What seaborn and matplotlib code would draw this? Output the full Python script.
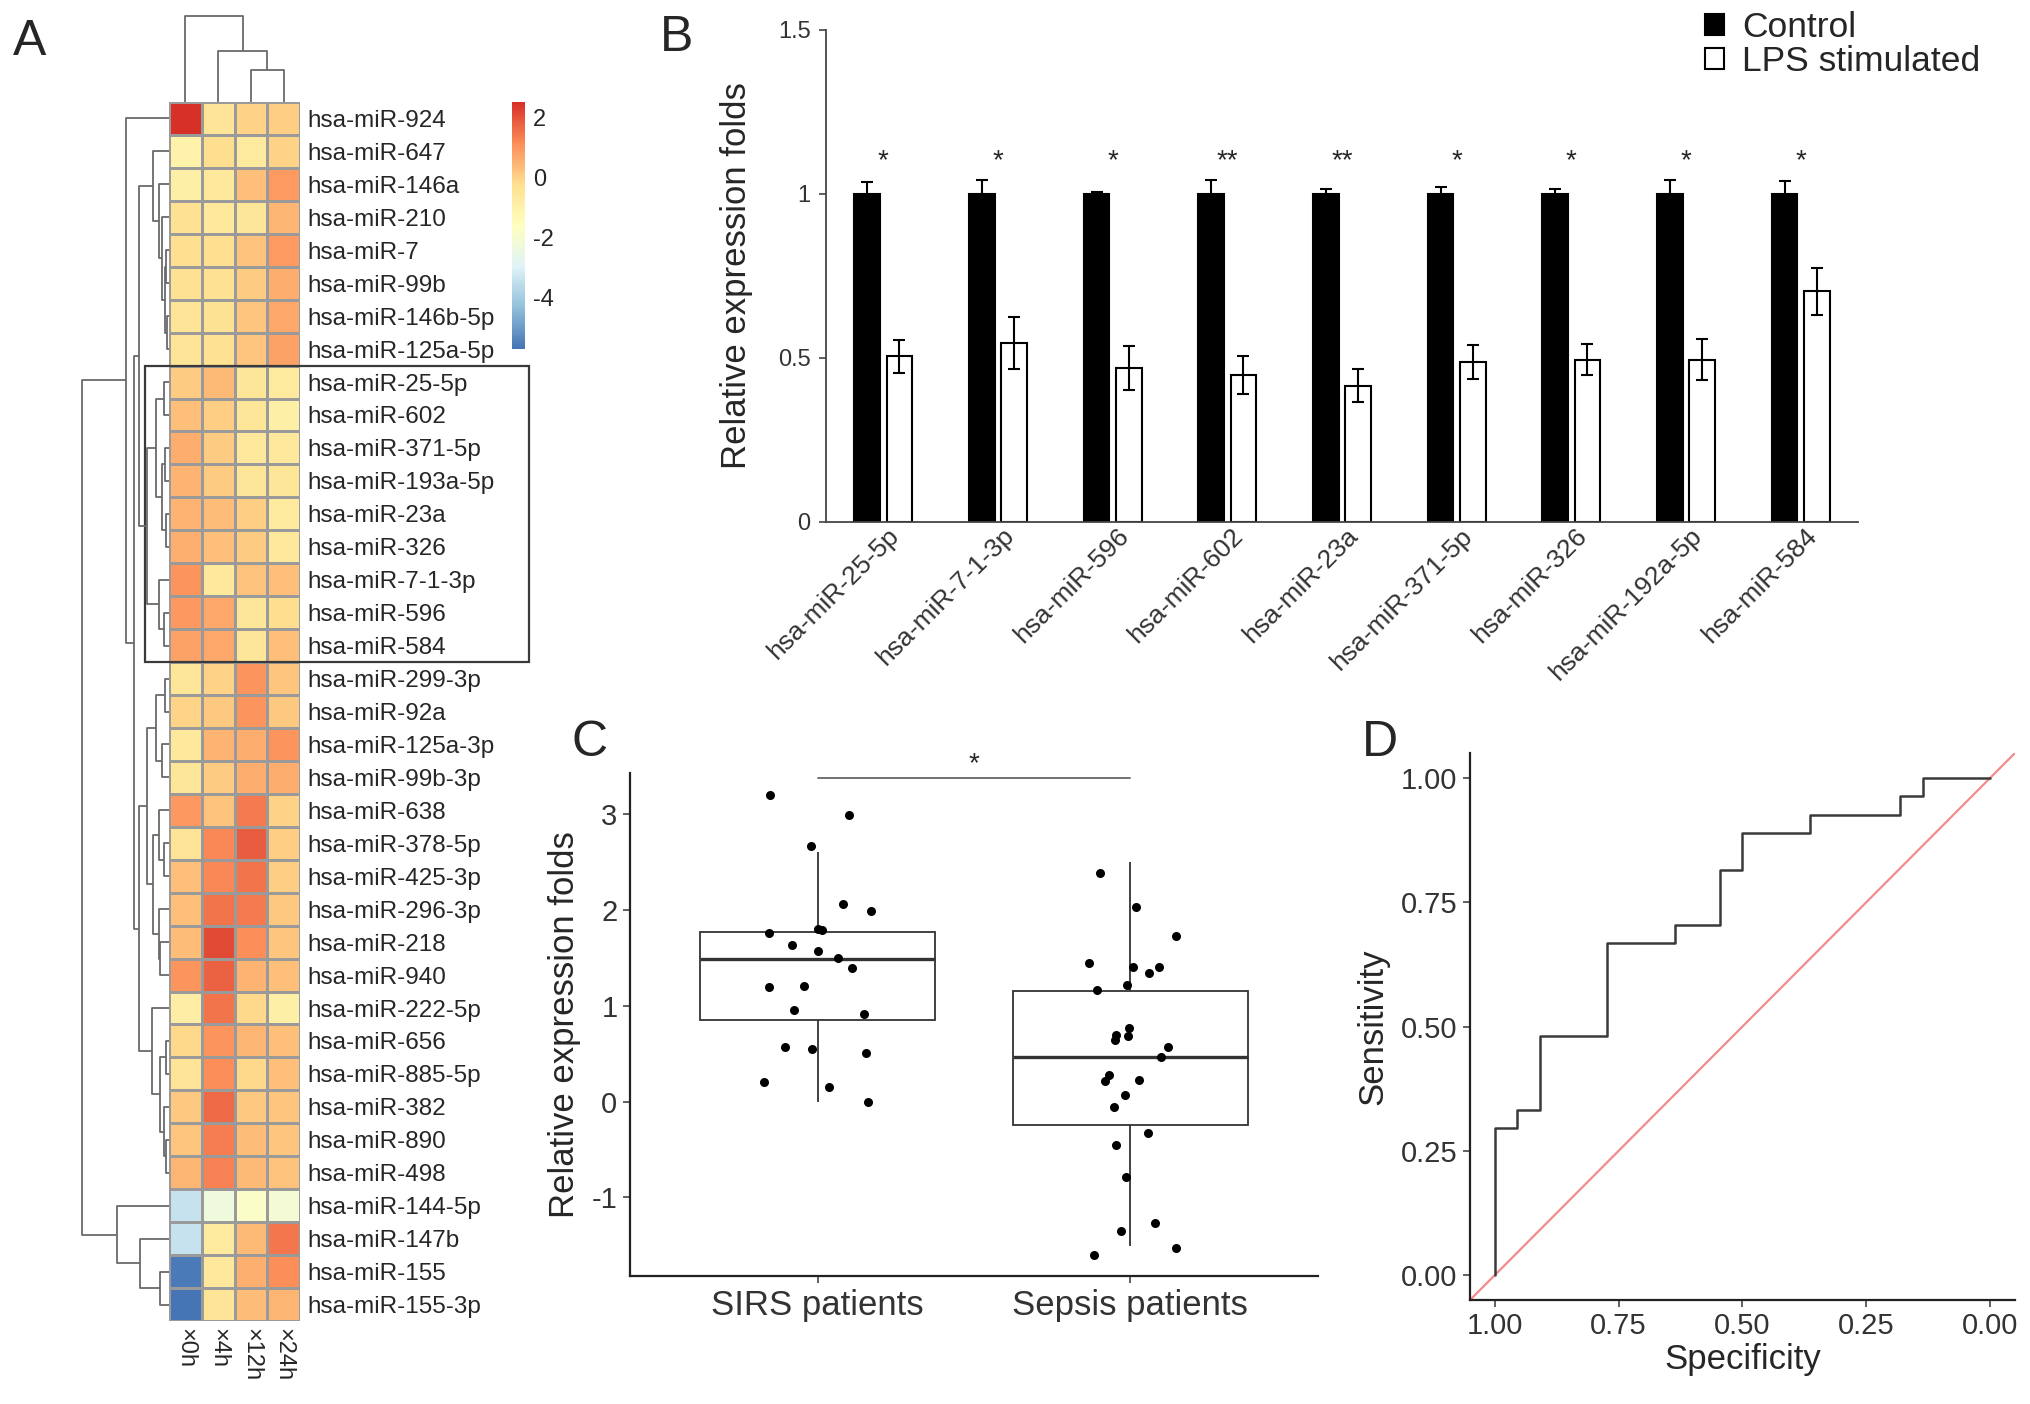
import numpy as np
import pandas as pd
import matplotlib
matplotlib.use('Agg')
import matplotlib.pyplot as plt
import matplotlib.transforms as mtransforms
import seaborn as sns
from matplotlib.colors import LinearSegmentedColormap
from matplotlib.patches import Rectangle
from matplotlib.ticker import FormatStrFormatter

# ---------------- Panel A: heatmap of miRNA expression ----------------
mirnas = ['hsa-miR-924', 'hsa-miR-647', 'hsa-miR-146a', 'hsa-miR-210', 'hsa-miR-7',
          'hsa-miR-99b', 'hsa-miR-146b-5p', 'hsa-miR-125a-5p', 'hsa-miR-25-5p',
          'hsa-miR-602', 'hsa-miR-371-5p', 'hsa-miR-193a-5p', 'hsa-miR-23a',
          'hsa-miR-326', 'hsa-miR-7-1-3p', 'hsa-miR-596', 'hsa-miR-584',
          'hsa-miR-299-3p', 'hsa-miR-92a', 'hsa-miR-125a-3p', 'hsa-miR-99b-3p',
          'hsa-miR-638', 'hsa-miR-378-5p', 'hsa-miR-425-3p', 'hsa-miR-296-3p',
          'hsa-miR-218', 'hsa-miR-940', 'hsa-miR-222-5p', 'hsa-miR-656',
          'hsa-miR-885-5p', 'hsa-miR-382', 'hsa-miR-890', 'hsa-miR-498',
          'hsa-miR-144-5p', 'hsa-miR-147b', 'hsa-miR-155', 'hsa-miR-155-3p']
timepoints = ['×0h', '×4h', '×12h', '×24h']
expr_0h = [2.5, -1.0, -0.9, -0.3, -0.25, -0.3, -0.4, -0.4, 0.1, 0.3, 0.6, 0.5, 0.5,
           0.55, 1.0, 0.95, 0.8, -0.5, -0.05, -0.6, -0.5, 0.95, -0.4, 0.3, 0.3,
           0.35, 1.0, -0.8, -0.1, -0.4, 0.15, 0.2, 0.45, -3.4, -3.4, -5.6, -5.7]
expr_4h = [-0.4, -0.2, -0.6, -0.6, -0.25, -0.3, -0.35, -0.3, 0.4, 0.05, 0.1, 0.1, 0.35,
           0.3, -0.6, 0.7, 0.7, 0.0, 0.15, 0.5, 0.1, 0.25, 1.2, 1.2, 1.5,
           2.1, 1.75, 1.5, 1.0, 1.1, 1.65, 1.35, 1.3, -2.3, -0.7, -0.6, -0.4]
expr_12h = [0.0, -0.7, 0.3, -0.5, 0.25, 0.1, 0.2, 0.2, -0.5, -0.5, -0.6, -0.5, 0.05,
            0.1, 0.25, -0.5, -0.5, 1.0, 1.0, 0.6, 0.6, 1.4, 1.85, 1.5, 1.4,
            1.1, 0.5, -0.1, 0.45, -0.1, 0.15, 0.35, 0.4, -1.8, 0.4, 0.55, 0.35]
expr_24h = [0.05, 0.0, 0.9, 0.45, 0.9, 0.6, 0.7, 0.8, -0.7, -0.9, -0.6, -0.5, -0.7,
            -0.6, 0.3, -0.2, 0.3, 0.2, 0.15, 1.0, 0.6, 0.0, 0.05, 0.05, 0.15,
            0.2, 0.3, -0.9, 0.3, 0.3, 0.2, 0.2, 0.25, -2.1, 1.45, 1.1, 0.45]
boxed_first, boxed_last = 'hsa-miR-25-5p', 'hsa-miR-584'

# clustering trees: (merge height, left, right), leaves = row index
g1 = (0.18, 1, (0.12, 2, (0.08, 3, (0.05, (0.03, 4, 5), (0.02, 6, 7)))))
g2 = (0.25, (0.15, (0.06, 8, 9), (0.08, (0.05, 10, 11), (0.04, 12, 13))),
      (0.12, 14, (0.06, 15, 16)))
h1 = (0.25, (0.15, (0.05, 17, 18), (0.08, 19, 20)),
      (0.18, (0.12, 21, (0.06, 22, 23)), (0.12, 24, (0.1, 25, 26))))
h2 = (0.2, 27, (0.1, (0.04, 28, 29), (0.06, 30, (0.03, 31, 32))))
row_tree = (1.0, (0.49, 0, (0.40, (0.34, g1, g2), (0.34, h1, h2))),
            (0.6, 33, (0.33, 34, (0.1, 35, 36))))
col_tree = (1.0, 0, (0.59, 1, (0.37, 2, 3)))

# ---------------- Panel B: qPCR validation ----------------
b_mirnas = ['hsa-miR-25-5p', 'hsa-miR-7-1-3p', 'hsa-miR-596', 'hsa-miR-602',
            'hsa-miR-23a', 'hsa-miR-371-5p', 'hsa-miR-326', 'hsa-miR-192a-5p',
            'hsa-miR-584']
ctrl_mean = [1.0, 1.0, 1.0, 1.0, 1.0, 1.0, 1.0, 1.0, 1.0]
ctrl_err = [0.037, 0.044, 0.007, 0.042, 0.014, 0.02, 0.014, 0.042, 0.04]
lps_mean = [0.505, 0.546, 0.469, 0.447, 0.415, 0.487, 0.495, 0.495, 0.703]
lps_err = [0.05, 0.08, 0.067, 0.058, 0.05, 0.052, 0.048, 0.063, 0.072]
signif = ['*', '*', '*', '**', '**', '*', '*', '*', '*']

# ---------------- Panel C: SIRS vs sepsis ----------------
groups = ['SIRS patients', 'Sepsis patients']
sirs_vals = [3.2, 2.99, 2.67, 2.06, 1.99, 1.79, 1.80, 1.76, 1.63, 1.57, 1.50, 1.39,
             1.21, 1.20, 0.96, 0.91, 0.57, 0.55, 0.51, 0.20, 0.15, 0.0]
sepsis_vals = [2.39, 2.03, 1.73, 1.45, 1.40, 1.41, 1.34, 1.22, 1.17, 0.77, 0.70, 0.68,
               0.64, 0.57, 0.47, 0.28, 0.23, 0.22, 0.07, -0.06, -0.33, -0.45, -0.79,
               -1.27, -1.35, -1.53, -1.60]
# five-number summaries of the boxes: lower whisker, Q1, median, Q3, upper whisker
sirs_box = [0.0, 0.85, 1.49, 1.77, 2.61]
sepsis_box = [-1.51, -0.24, 0.47, 1.15, 2.50]

# ---------------- Panel D: ROC curve ----------------
specificity = [1.0, 1.0, 0.955, 0.909, 0.773, 0.636, 0.545, 0.5, 0.364, 0.182, 0.136, 0.0]
sensitivity = [0.0, 0.296, 0.333, 0.481, 0.667, 0.704, 0.815, 0.889, 0.926, 0.963, 1.0, 1.0]

# ---------------- figure ----------------
sns.set_style('white')
plt.rcParams['font.family'] = ['Liberation Sans', 'DejaVu Sans']
plt.rcParams['axes.unicode_minus'] = False

W, H = 2031, 1404
fig = plt.figure(figsize=(W / 100, H / 100), dpi=100)


def px_axes(x0, y0, x1, y1):
    return fig.add_axes([x0 / W, 1 - y1 / H, (x1 - x0) / W, (y1 - y0) / H])


def draw_tree(ax, node, leaf_pos, rows):
    if isinstance(node, int):
        return leaf_pos(node), 0.0
    h, left, right = node
    p1, h1 = draw_tree(ax, left, leaf_pos, rows)
    p2, h2 = draw_tree(ax, right, leaf_pos, rows)
    if rows:
        ax.plot([h1, h, h, h2], [p1, p1, p2, p2], color='#6a6a6a', lw=1.3,
                solid_capstyle='butt', clip_on=False)
    else:
        ax.plot([p1, p1, p2, p2], [h1, h, h, h2], color='#6a6a6a', lw=1.3,
                solid_capstyle='butt', clip_on=False)
    return (p1 + p2) / 2, h


# --- A
hm_df = pd.DataFrame({timepoints[0]: expr_0h, timepoints[1]: expr_4h,
                      timepoints[2]: expr_12h, timepoints[3]: expr_24h}, index=mirnas)
cmap = LinearSegmentedColormap.from_list(
    'rdylbu7', ['#4575B4', '#91BFDB', '#E0F3F8', '#FFFFBF', '#FEE090', '#FC8D59', '#D73027'])

ax_hm = px_axes(169, 102, 300, 1321)
ax_cb = px_axes(512, 102, 525, 349)
sns.heatmap(hm_df, ax=ax_hm, cmap=cmap, vmin=hm_df.values.min(), vmax=hm_df.values.max(),
            linewidths=1, linecolor='#9a9a9a', cbar_ax=ax_cb,
            cbar_kws={'ticks': [2, 0, -2, -4]}, xticklabels=True, yticklabels=True)
ax_hm.yaxis.tick_right()
ax_hm.set_xlabel('')
ax_hm.set_ylabel('')
ax_hm.tick_params(axis='y', length=0, pad=5, labelsize=17.5, labelright=True, labelleft=False)
ax_hm.tick_params(axis='x', length=0, pad=5, labelsize=17)
for t in ax_hm.get_yticklabels():
    t.set_rotation(0)
for t in ax_hm.get_xticklabels():
    t.set_rotation(270)
    t.set_va('top')
    t.set_ha('center')
ax_cb.tick_params(length=0, labelsize=17, pad=6)
ax_hm.collections[0].colorbar.outline.set_visible(False)

# highlighted block of miRNAs
r0 = mirnas.index(boxed_first)
r1 = mirnas.index(boxed_last) + 1
box_tr = mtransforms.blended_transform_factory(ax_hm.transAxes, ax_hm.transData)
ax_hm.add_patch(Rectangle((-0.183, r0), 2.93, r1 - r0, transform=box_tr, fill=False,
                          edgecolor='#3a3a3a', lw=1.6, clip_on=False, zorder=5))

ax_rd = px_axes(82, 102, 169, 1321)
draw_tree(ax_rd, row_tree, lambda i: i + 0.5, True)
ax_rd.set_xlim(1.0, 0.0)
ax_rd.set_ylim(len(mirnas), 0)
ax_rd.axis('off')

ax_cd = px_axes(169, 16, 300, 102)
draw_tree(ax_cd, col_tree, lambda j: j + 0.5, False)
ax_cd.set_xlim(0, len(timepoints))
ax_cd.set_ylim(0, 1.0)
ax_cd.axis('off')

# --- B
b_df = pd.DataFrame({
    'mirna': b_mirnas * 2,
    'group': ['Control'] * len(b_mirnas) + ['LPS stimulated'] * len(b_mirnas),
    'value': ctrl_mean + lps_mean,
})
ax_b = px_axes(826, 30, 1858, 522)
sns.barplot(data=b_df, x='mirna', y='value', hue='group', ax=ax_b,
            palette={'Control': 'black', 'LPS stimulated': 'white'},
            edgecolor='black', linewidth=1.5, width=0.56, gap=0.2, errorbar=None)
for cont, errs in zip(ax_b.containers, [ctrl_err, lps_err]):
    xs = [bar.get_x() + bar.get_width() / 2 for bar in cont]
    ys = [bar.get_height() for bar in cont]
    ax_b.errorbar(xs, ys, yerr=errs, fmt='none', ecolor='black', elinewidth=1.5,
                  capsize=4.5, capthick=1.5, zorder=4)
for i, s in enumerate(signif):
    ax_b.text(i, 1.10, s, ha='center', va='center', fontsize=20)
handles, labels = ax_b.get_legend_handles_labels()
ax_b.get_legend().remove()
fig.legend(handles, labels, loc='upper left', bbox_to_anchor=(1705 / W, 1 - 11 / H),
           frameon=False, fontsize=25.5, handlelength=0.55, handleheight=0.55,
           handletextpad=0.5, labelspacing=0.02, borderpad=0, borderaxespad=0)
ax_b.set_xlim(-0.5, len(b_mirnas) - 0.5)
ax_b.set_ylim(0, 1.5)
ax_b.set_yticks([0, 0.5, 1, 1.5])
ax_b.set_yticklabels(['0', '0.5', '1', '1.5'])
ax_b.set_xlabel('')
ax_b.set_ylabel('Relative expression folds', fontsize=25, labelpad=18)
sns.despine(ax=ax_b)
for sp in ['left', 'bottom']:
    ax_b.spines[sp].set_color('#444444')
    ax_b.spines[sp].set_linewidth(1.3)
ax_b.tick_params(axis='y', left=True, length=5, width=1.2, color='#444444',
                 labelsize=17, pad=6, labelcolor='#333333')
ax_b.tick_params(axis='x', bottom=False, labelsize=19, pad=4, labelcolor='#333333')
shift = mtransforms.ScaledTranslation(12 / 100, 0, fig.dpi_scale_trans)
for t in ax_b.get_xticklabels():
    t.set_rotation(45)
    t.set_ha('right')
    t.set_va('center')
    t.set_rotation_mode('anchor')
    t.set_transform(t.get_transform() + shift)

# --- C
box_df = pd.DataFrame({'group': [groups[0]] * 5 + [groups[1]] * 5,
                       'value': sirs_box + sepsis_box})
pts_df = pd.DataFrame({'group': [groups[0]] * len(sirs_vals) + [groups[1]] * len(sepsis_vals),
                       'value': sirs_vals + sepsis_vals})
ax_c = px_axes(630, 773, 1318, 1276)
sns.boxplot(data=box_df, x='group', y='value', order=groups, ax=ax_c, whis=(0, 100),
            width=0.75, showcaps=False, color='white', linecolor='#333333', linewidth=1.3,
            medianprops={'linewidth': 2.4, 'color': '#333333'})
np.random.seed(7)
sns.stripplot(data=pts_df, x='group', y='value', order=groups, ax=ax_c, jitter=0.18,
              color='black', size=6.5, linewidth=0, zorder=5)
ax_c.plot([0, 1], [3.38, 3.38], color='#666666', lw=1.3)
ax_c.text(0.5, 3.52, '*', ha='center', va='center', fontsize=20)
ax_c.set_xlim(-0.6, 1.6)
ax_c.set_ylim(-1.82, 3.43)
ax_c.set_yticks([-1, 0, 1, 2, 3])
ax_c.set_xlabel('')
ax_c.set_ylabel('Relative expression folds', fontsize=25, labelpad=8)
sns.despine(ax=ax_c)
for sp in ['left', 'bottom']:
    ax_c.spines[sp].set_color('#222222')
    ax_c.spines[sp].set_linewidth(1.6)
ax_c.tick_params(axis='both', length=5, width=1.2, color='#444444', labelcolor='#333333')
ax_c.tick_params(axis='x', labelsize=25, bottom=True, pad=4)
ax_c.tick_params(axis='y', labelsize=21, left=True, pad=4)

# --- D
roc_df = pd.DataFrame({'specificity': specificity, 'sensitivity': sensitivity})
ax_d = px_axes(1470, 753, 2015, 1300)
ax_d.axline((1, 0), (0, 1), color='#F28B8B', lw=1.6)
sns.lineplot(data=roc_df, x='specificity', y='sensitivity', ax=ax_d, sort=False,
             estimator=None, drawstyle='steps-post', color='#3a3a3a', lw=1.8)
ax_d.set_xlim(1.05, -0.05)
ax_d.set_ylim(-0.05, 1.05)
ax_d.set_xticks([1.0, 0.75, 0.5, 0.25, 0.0])
ax_d.set_yticks([0.0, 0.25, 0.5, 0.75, 1.0])
ax_d.xaxis.set_major_formatter(FormatStrFormatter('%.2f'))
ax_d.yaxis.set_major_formatter(FormatStrFormatter('%.2f'))
ax_d.set_xlabel('Specificity', fontsize=25, labelpad=2)
ax_d.set_ylabel('Sensitivity', fontsize=25, labelpad=8)
sns.despine(ax=ax_d)
for sp in ['left', 'bottom']:
    ax_d.spines[sp].set_color('#222222')
    ax_d.spines[sp].set_linewidth(1.6)
ax_d.tick_params(axis='both', length=5, width=1.2, color='#444444', labelcolor='#333333',
                 labelsize=21, left=True, bottom=True, pad=4)

# panel letters
for letter, (lx, ly) in {'A': (30, 42), 'B': (677, 38), 'C': (590, 743),
                         'D': (1380, 743)}.items():
    fig.text(lx / W, 1 - ly / H, letter, fontsize=36, ha='center', va='center')

fig.savefig('out.png', dpi=100)
